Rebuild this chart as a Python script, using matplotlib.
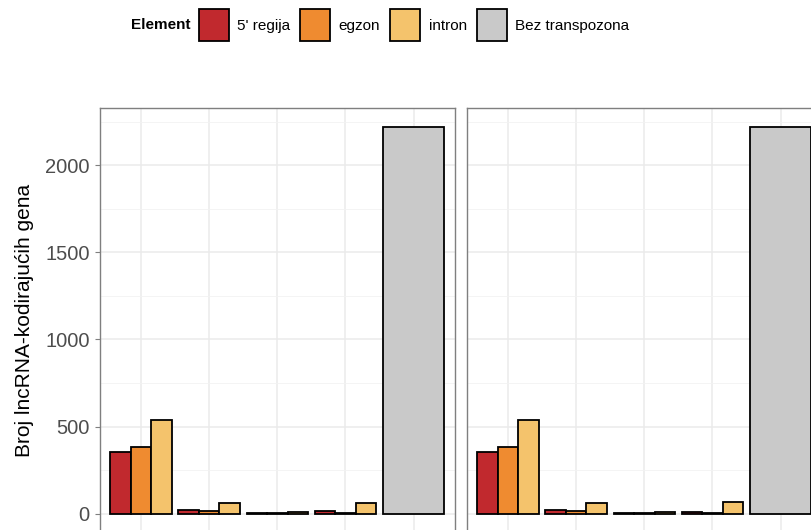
import matplotlib
matplotlib.use("Agg")
import matplotlib.pyplot as plt
from matplotlib.patches import Patch
from matplotlib.ticker import MultipleLocator
import numpy as np

plt.rcParams['font.family'] = ['Liberation Sans', 'DejaVu Sans']

# data (two facets, identical layout)
categories = ['g1', 'g2', 'g3', 'g4', 'Bez transpozona']
elements = ["5' regija", 'egzon', 'intron']
left_5reg = [355, 20, 2, 13]
left_egzon = [382, 17, 4, 3]
left_intron = [536, 62, 7, 64]
left_bez = 2218
right_5reg = [355, 19, 2, 12]
right_egzon = [382, 16, 4, 3]
right_intron = [537, 63, 7, 65]
right_bez = 2218

colors = ['#C1292E', '#EF8B30', '#F4C36C']
gray = '#C9C9C9'
edge_lw = 1.3

fig = plt.figure(figsize=(8.11, 5.30), dpi=100)
W, H = 811., 530.
# panels in pixel coords; right panel runs past the image edge (cropped figure)
axl = fig.add_axes([100/W, (H-533)/H, 354.6/W, 425/H])
axr = fig.add_axes([467/W, (H-533)/H, 354.6/W, 425/H])

def panel(ax, s1, s2, s3, bez):
    x = np.arange(len(categories) - 1)
    bw = 0.9/3
    for i, vals in enumerate([s1, s2, s3]):
        ax.bar(x + (i-1)*bw, vals, width=bw, color=colors[i], edgecolor='black',
               linewidth=edge_lw, zorder=3)
    ax.bar([len(categories)-1], [bez], width=0.9, color=gray, edgecolor='black',
           linewidth=edge_lw, zorder=3)
    ymax = max(bez, max(s3))
    ax.set_ylim(-0.05*ymax, 1.05*ymax)
    ax.set_xlim(-0.6, len(categories)-0.4)
    ax.set_xticks(np.arange(len(categories)))
    ax.set_xticklabels(categories)
    ax.yaxis.set_major_locator(MultipleLocator(500))
    ax.yaxis.set_minor_locator(MultipleLocator(250))
    ax.grid(which='major', color='#EBEBEB', linewidth=1.1, zorder=0)
    ax.grid(which='minor', axis='y', color='#F2F2F2', linewidth=0.6, zorder=0)
    ax.set_axisbelow(True)
    for sp in ax.spines.values():
        sp.set_color('#7F7F7F')
        sp.set_linewidth(1.0)
    ax.tick_params(which='major', length=3.5, color='#7F7F7F', width=0.8,
                   labelsize=14.5, labelcolor='#4D4D4D', pad=4)
    ax.tick_params(which='minor', length=0)
    ax.tick_params(axis='x', labelbottom=False)

panel(axl, left_5reg, left_egzon, left_intron, left_bez)
panel(axr, right_5reg, right_egzon, right_intron, right_bez)
axr.tick_params(axis='y', labelleft=False, left=False)
axl.set_ylabel('Broj lncRNA-kodirajućih gena', fontsize=15, labelpad=8)

# legend across the top
handles = [Patch(facecolor=c, edgecolor='black', linewidth=edge_lw) for c in colors]
handles.append(Patch(facecolor=gray, edgecolor='black', linewidth=edge_lw))
labels = elements + ['Bez transpozona']
fig.text(131.5/W, 1-25/H, 'Element', fontsize=11, fontweight='bold', va='center', ha='left')
fig.legend(handles, labels, loc='center left', bbox_to_anchor=(199/W, 1-25/H),
           ncol=4, frameon=False, fontsize=11, borderpad=0, borderaxespad=0,
           handlelength=1.96, handleheight=2.75, handletextpad=0.55,
           columnspacing=0.65)

plt.savefig('out.png', dpi=100)
